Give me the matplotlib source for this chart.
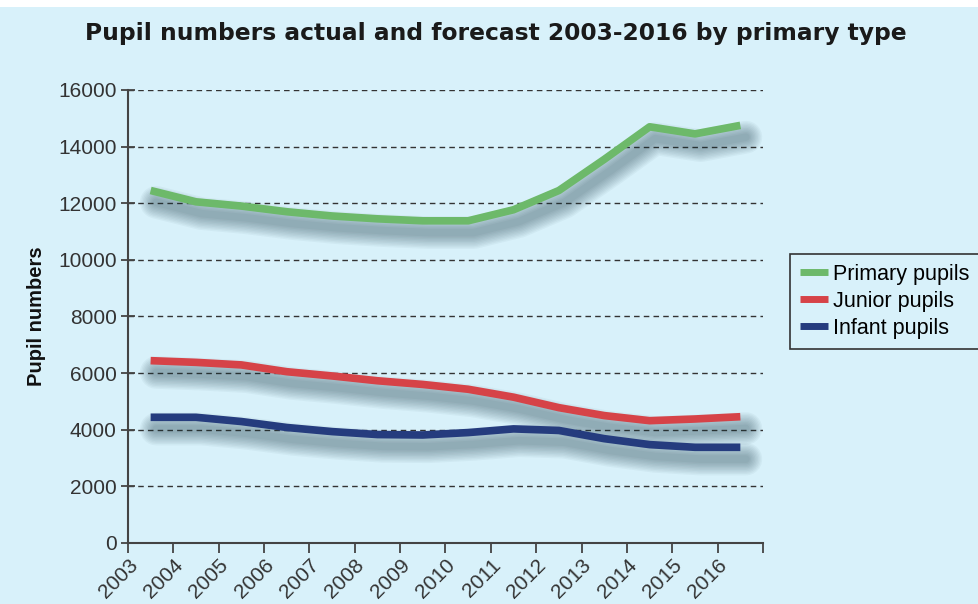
import matplotlib
matplotlib.use('Agg')
import matplotlib.pyplot as plt
import matplotlib.patheffects as pe
import matplotlib.transforms as mtransforms
from matplotlib.patches import Rectangle
import numpy as np

years = ['2003', '2004', '2005', '2006', '2007', '2008', '2009',
         '2010', '2011', '2012', '2013', '2014', '2015', '2016']
primary = [12450, 12050, 11900, 11700, 11550, 11450, 11380,
           11380, 11770, 12450, 13550, 14700, 14450, 14750]
junior = [6440, 6380, 6290, 6050, 5900, 5730, 5600,
          5430, 5150, 4780, 4500, 4320, 4380, 4460]
infant = [4440, 4440, 4290, 4080, 3935, 3830, 3815,
          3900, 4030, 3975, 3685, 3475, 3380, 3380]

bg = '#d8f1fa'
axis_col = '#444444'
text_col = '#333333'

plt.rcParams['font.family'] = ['Liberation Sans', 'DejaVu Sans']

fig = plt.figure(figsize=(9.79, 6.04), dpi=100, facecolor=bg)
# white strip along the top edge
fig.patches.append(Rectangle((0, 0.988), 1, 0.012, transform=fig.transFigure,
                             facecolor='white', edgecolor='none', zorder=0))
ax = fig.add_axes([0.1307, 0.101, 0.6487, 0.750])
ax.set_facecolor(bg)

x = np.arange(len(years)) + 0.5
lw = 5.5
# soft drop shadow: stacked translucent strokes of growing width
shadow = [pe.SimpleLineShadow(offset=(4, -8.5), shadow_color='#1c3a48',
                              alpha=0.045, linewidth=lw + k,
                              capstyle='round')
          for k in range(0, 20, 2)] + [pe.Normal()]

series = [('Primary pupils', primary, '#6db96a'),
          ('Junior pupils', junior, '#d64348'),
          ('Infant pupils', infant, '#253c7e')]
for name, vals, col in series:
    ax.plot(x, vals, color=col, lw=lw, label=name, solid_capstyle='butt',
            solid_joinstyle='round', path_effects=shadow, zorder=3)

ax.set_xlim(0, len(years))
ax.set_ylim(0, 16000)
ax.set_yticks(np.arange(0, 16001, 2000))
ax.set_xticks(np.arange(len(years) + 1))
ax.set_xticklabels(years + [''], rotation=45, ha='right',
                   rotation_mode='anchor', va='top')
shift = mtransforms.ScaledTranslation(0.13, -0.07, fig.dpi_scale_trans)
for lab in ax.get_xticklabels():
    lab.set_transform(lab.get_transform() + shift)

ax.grid(axis='y', linestyle=(0, (4, 3)), color='#333333', lw=1.0)
ax.set_axisbelow(True)
for s in ['top', 'right']:
    ax.spines[s].set_visible(False)
for s in ['left', 'bottom']:
    ax.spines[s].set_color(axis_col)
    ax.spines[s].set_linewidth(1.5)
ax.tick_params(axis='y', direction='inout', length=10, width=1.3,
               color=axis_col, labelsize=15, labelcolor=text_col, pad=3)
ax.tick_params(axis='x', direction='out', length=7, width=1.3,
               color=axis_col, labelsize=15, labelcolor=text_col, pad=2)

ax.set_ylabel('Pupil numbers', fontsize=14.5, fontweight='bold',
              color='#111111', labelpad=9)

fig.text(0.506, 0.945, 'Pupil numbers actual and forecast 2003-2016 by primary type',
         ha='center', va='center', fontsize=16.8, fontweight='heavy',
         family=['DejaVu Sans'], color='#1a1a1a')

leg = fig.legend(loc='upper left', bbox_to_anchor=(0.807, 0.579),
                 frameon=True, fancybox=False, fontsize=15.5,
                 handlelength=1.3, handletextpad=0.23, borderpad=0.45,
                 labelspacing=0.28, borderaxespad=0, facecolor=bg,
                 edgecolor='#333333')
leg.get_frame().set_linewidth(1.2)
leg.get_frame().set_alpha(1)
for h in leg.get_lines():
    h.set_linewidth(5)
    h.set_path_effects([])

fig.savefig('out.png', dpi=100, facecolor=bg)
